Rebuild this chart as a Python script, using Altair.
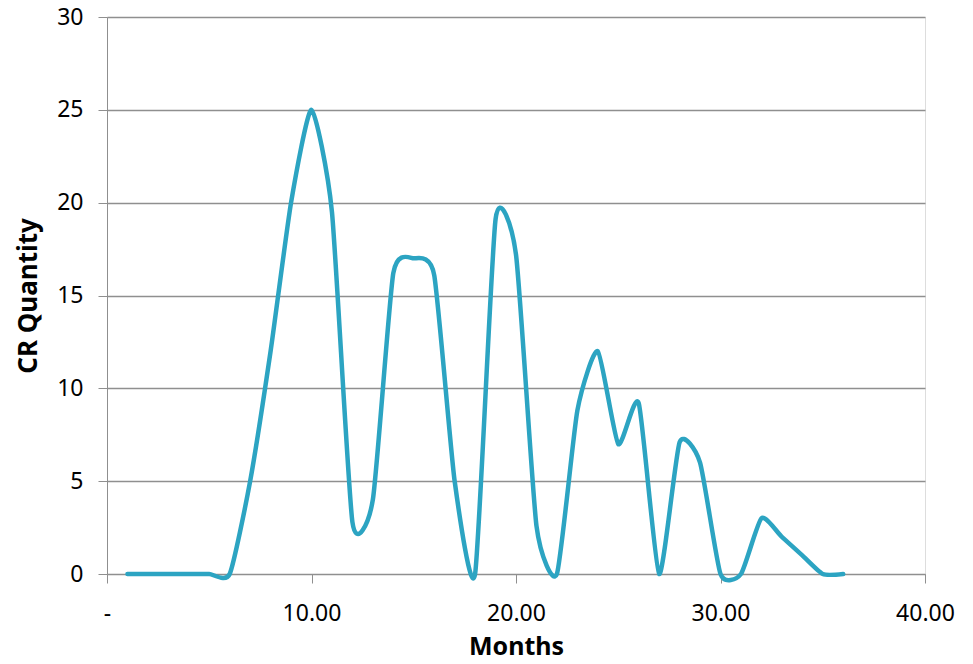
import altair as alt
import pandas as pd

months = list(range(1, 37))
cr_quantity = [0, 0, 0, 0, 0, 0, 5, 12, 20, 25, 19.5, 2.8, 4, 16.2, 17, 16.1, 5, 0,
               19.1, 17.2, 2.6, 0, 8.8, 12, 7, 9.2, 0, 7.1, 6, 0, 0, 3, 2, 1, 0, 0]

df = pd.DataFrame({"Months": months, "CR Quantity": cr_quantity})

FONT = "Noto Sans"
GRID = "#8f8f8f"
FS = "\u2007"

chart = alt.Chart(df).mark_line(
    interpolate="cardinal", tension=0.42, color="#2ca4c2", strokeWidth=4.5,
    strokeCap="round", strokeJoin="round"
).encode(
    x=alt.X("Months:Q",
            scale=alt.Scale(domain=[0, 40], nice=False),
            axis=alt.Axis(values=[0, 10, 20, 30, 40], grid=False, labelFlush=False,
                          labelExpr="datum.value == 0 ? '-" + FS + "' : format(datum.value, '.2f')",
                          domainColor=GRID, tickColor=GRID, tickSize=9,
                          labelFont=FONT, labelFontSize=23, labelColor="#000000",
                          labelPadding=19, titleFont=FONT, titleFontSize=25,
                          titleFontWeight="bold", titleColor="#000000",
                          titlePadding=9)),
    y=alt.Y("CR Quantity:Q",
            scale=alt.Scale(domain=[0, 30], nice=False),
            axis=alt.Axis(values=[0, 5, 10, 15, 20, 25, 30], grid=True, labelFlush=False,
                          gridColor=GRID, gridWidth=1.3, domainColor=GRID,
                          tickColor=GRID, tickSize=9, labelFont=FONT,
                          labelFontSize=23, labelColor="#000000", labelPadding=15,
                          titleFont=FONT, titleFontSize=26, titleFontWeight="bold",
                          titleColor="#000000", titlePadding=15)),
).properties(
    width=818, height=557,
    padding={"left": 107, "top": 17, "right": 48, "bottom": 90},
    autosize=alt.AutoSizeParams(type="none"),
).configure_view(stroke=None).configure(background="white")

chart.save("out.html", embed_options={"renderer": "svg", "actions": False})
